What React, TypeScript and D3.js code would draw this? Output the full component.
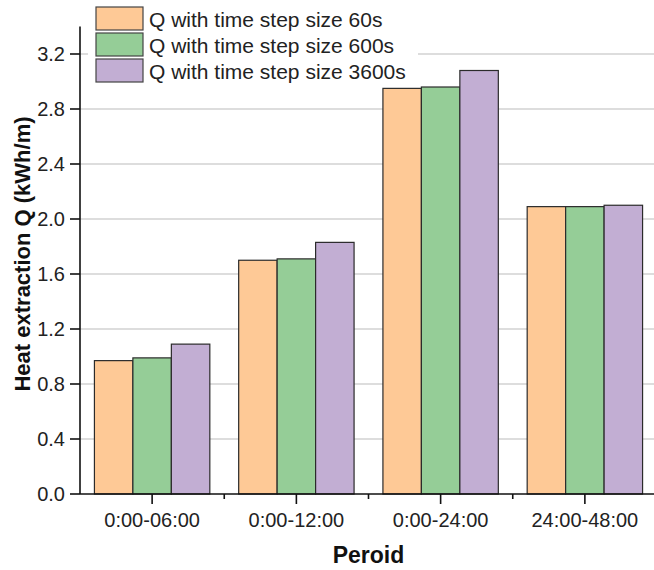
import React from "react";
import * as d3 from "d3";

// Periods on the x axis
const periods = ["0:00-06:00", "0:00-12:00", "0:00-24:00", "24:00-48:00"];

// Heat extraction per period (kWh/m) for each time step size
const q60 = [0.97, 1.70, 2.95, 2.09];
const q600 = [0.99, 1.71, 2.96, 2.09];
const q3600 = [1.09, 1.83, 3.08, 2.10];

const seriesNames = [
  "Q with time step size 60s",
  "Q with time step size 600s",
  "Q with time step size 3600s",
];
const seriesValues = [q60, q600, q3600];
const seriesColors = ["#FEC996", "#95CD97", "#C2AED3"];

const yTicks = [0.0, 0.4, 0.8, 1.2, 1.6, 2.0, 2.4, 2.8, 3.2];

const W = 654;
const H = 570;
const FONT = "'Liberation Sans', Arial, Helvetica, sans-serif";

export default function App() {
  const left = 80;
  const right = 657;
  const bottom = 494;
  const top = 26.5;

  const x0 = d3.scaleBand<string>().domain(periods).range([left, right]).padding(0);
  const groupW = x0.bandwidth() * 0.8;
  const gOff = (x0.bandwidth() - groupW) / 2;
  const x1 = d3
    .scaleBand<string>()
    .domain(seriesNames)
    .range([gOff, gOff + groupW])
    .padding(0);
  const y = d3.scaleLinear().domain([0, 3.4]).range([bottom, top]);

  const fmt = d3.format(".1f");

  return (
    <svg
      width={W}
      height={H}
      viewBox={`0 0 ${W} ${H}`}
      style={{ position: "absolute", left: 0, top: 0, background: "#fff" }}
      fontFamily={FONT}
    >
      <rect x={0} y={0} width={W} height={H} fill="#fff" />

      {/* horizontal grid */}
      {yTicks.slice(1).map((t) => (
        <line
          key={"g" + t}
          x1={left}
          x2={W}
          y1={y(t)}
          y2={y(t)}
          stroke="#d2d2d2"
          strokeWidth={1.3}
        />
      ))}

      {/* bars */}
      {periods.map((p, i) => (
        <g key={p} transform={`translate(${x0(p)},0)`}>
          {seriesNames.map((s, k) => {
            const v = seriesValues[k][i];
            return (
              <rect
                key={s}
                x={x1(s)}
                y={y(v)}
                width={x1.bandwidth()}
                height={y(0) - y(v)}
                fill={seriesColors[k]}
                stroke="#2b2b2b"
                strokeWidth={1.2}
              />
            );
          })}
        </g>
      ))}

      {/* y axis */}
      <line x1={left} x2={left} y1={top} y2={bottom} stroke="#111" strokeWidth={1.6} />
      {yTicks.map((t) => (
        <g key={"yt" + t}>
          <line x1={left - 10} x2={left} y1={y(t)} y2={y(t)} stroke="#111" strokeWidth={1.6} />
          <text
            x={left - 15}
            y={y(t)}
            dy="0.36em"
            textAnchor="end"
            fontSize={20}
            fill="#222"
          >
            {fmt(t)}
          </text>
        </g>
      ))}

      {/* x axis */}
      <line x1={left} x2={W} y1={bottom} y2={bottom} stroke="#111" strokeWidth={1.6} />
      {periods.map((p) => {
        const cx = (x0(p) as number) + x0.bandwidth() / 2;
        const bx = (x0(p) as number) + x0.bandwidth();
        return (
          <g key={"xt" + p}>
            <line x1={cx} x2={cx} y1={bottom} y2={bottom + 10} stroke="#111" strokeWidth={1.6} />
            {bx < W && (
              <line x1={bx} x2={bx} y1={bottom} y2={bottom + 5} stroke="#111" strokeWidth={1.6} />
            )}
            <text x={cx} y={bottom + 33} textAnchor="middle" fontSize={20} fill="#222">
              {p}
            </text>
          </g>
        );
      })}

      {/* axis titles */}
      <text
        x={(left + right) / 2}
        y={563}
        textAnchor="middle"
        fontSize={23}
        fontWeight="bold"
        fill="#111"
      >
        Peroid
      </text>
      <text
        transform={`translate(30,254) rotate(-90)`}
        textAnchor="middle"
        fontSize={22}
        fontWeight="bold"
        fill="#111"
      >
        Heat extraction Q (kWh/m)
      </text>

      {/* legend */}
      <g>
        <rect x={88} y={3} width={330} height={83} fill="#fff" />
        {seriesNames.map((s, k) => (
          <g key={"lg" + s} transform={`translate(96,${7 + k * 26})`}>
            <rect width={47} height={23} fill={seriesColors[k]} stroke="#444" strokeWidth={1.2} />
            <text x={53} y={19.5} fontSize={21} fill="#222">
              {s}
            </text>
          </g>
        ))}
      </g>
    </svg>
  );
}
